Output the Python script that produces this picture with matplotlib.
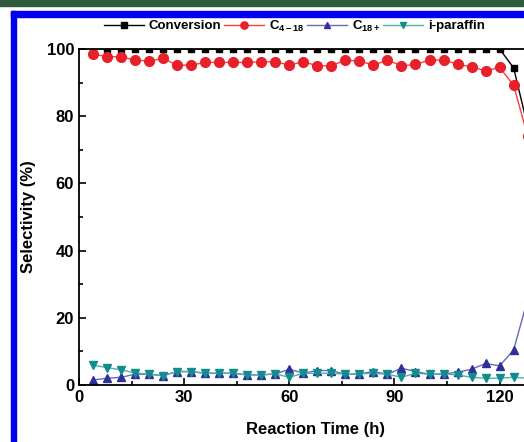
import numpy as np
import matplotlib
matplotlib.use('Agg')
import matplotlib.pyplot as plt
from matplotlib.patches import Rectangle

plt.rcParams['font.family'] = ['Liberation Sans', 'DejaVu Sans']
plt.rcParams['font.weight'] = 'bold'
plt.rcParams['mathtext.fontset'] = 'custom'
plt.rcParams['mathtext.rm'] = 'Liberation Sans:bold'
plt.rcParams['mathtext.it'] = 'Liberation Sans:bold'
plt.rcParams['mathtext.bf'] = 'Liberation Sans:bold'

# reaction time (h)
time = np.arange(4, 129, 4)

conversion = [100] * 30 + [94.4, 77.0]

c4_18 = [98.5, 97.7, 97.7, 96.7, 96.4, 97.2, 95.2, 95.2, 96.0, 96.0,
         96.0, 96.0, 96.2, 96.2, 95.2, 96.2, 95.0, 95.0, 96.7, 96.4,
         95.2, 96.7, 95.0, 95.4, 96.7, 96.7, 95.5, 94.7, 93.5, 94.5,
         89.2, 74.1]

c18_plus = [1.5, 2.0, 2.3, 3.2, 3.2, 2.8, 4.0, 4.0, 3.5, 3.5,
            3.5, 3.0, 3.0, 3.3, 4.7, 3.5, 4.3, 4.3, 3.2, 3.3,
            4.0, 3.2, 5.0, 4.0, 3.2, 3.3, 3.8, 4.7, 6.4, 5.7,
            10.4, 25.5]

i_paraffin = [5.9, 5.2, 4.5, 3.6, 3.2, 2.8, 4.0, 4.0, 3.5, 3.5,
              3.5, 3.0, 3.0, 3.3, 2.3, 3.5, 3.5, 3.5, 3.2, 3.3,
              3.5, 3.2, 2.3, 3.5, 3.2, 3.3, 3.0, 2.3, 2.0, 2.0,
              2.3, 2.0]

W, H = 524, 442
fig = plt.figure(figsize=(W / 100, H / 100), dpi=100)

# page decorations: green band and blue frame
fig.patches.append(Rectangle((0, 1 - 6 / H), 1, 6 / H, transform=fig.transFigure,
                             color='#2d5b3c', zorder=0))
fig.patches.append(Rectangle((11 / W, 0), 5 / W, 1 - 11 / H, transform=fig.transFigure,
                             color='#0000f0', zorder=0))
fig.patches.append(Rectangle((11 / W, 1 - 17 / H), 1, 6 / H, transform=fig.transFigure,
                             color='#0000f0', zorder=0))

x0_px, y0_px, ytop_px = 79, 385, 49
px_per_h = 3.505
xmax = 135
ax = fig.add_axes([x0_px / W, (H - y0_px) / H, px_per_h * xmax / W, (y0_px - ytop_px) / H])

ax.plot(time, conversion, color='black', lw=1, marker='s', ms=5, label='Conversion')
ax.plot(time, c4_18, color='#ff3b3b', lw=1, marker='o', ms=7, mfc='#e8202a',
        mec='#e8202a', label='C$_{4-18}$')
ax.plot(time, c18_plus, color='#6a6ab8', lw=1, marker='^', ms=6, mfc='#2f2f9c',
        mec='#2f2f9c', label='C$_{18+}$')
ax.plot(time, i_paraffin, color='#4fb0b0', lw=1, marker='v', ms=6, mfc='#138c8c',
        mec='#138c8c', label='i-paraffin')

ax.set_xlim(0, xmax)
ax.set_ylim(0, 100)
ax.set_xticks([0, 30, 60, 90, 120])
ax.set_xticks([15, 45, 75, 105], minor=True)
ax.set_yticks([0, 20, 40, 60, 80, 100])
ax.set_yticks([10, 30, 50, 70, 90], minor=True)
ax.tick_params(direction='in', labelsize=12, width=1.2, length=5)
ax.tick_params(which='minor', direction='in', width=1.2, length=3)
for s in ax.spines.values():
    s.set_linewidth(1.3)

ax.set_xlabel('Reaction Time (h)', fontsize=12, fontweight='bold', labelpad=12)
ax.set_ylabel('Selectivity (%)', fontsize=12, fontweight='bold', labelpad=8)

leg = fig.legend(loc='center left', bbox_to_anchor=(104 / W, 1 - 26 / H), ncol=4,
                 frameon=False, fontsize=9.5, handlelength=3.0, handletextpad=0.4,
                 columnspacing=0.2, borderaxespad=0, borderpad=0, markerscale=0.75)

fig.savefig('out.png', dpi=100)
